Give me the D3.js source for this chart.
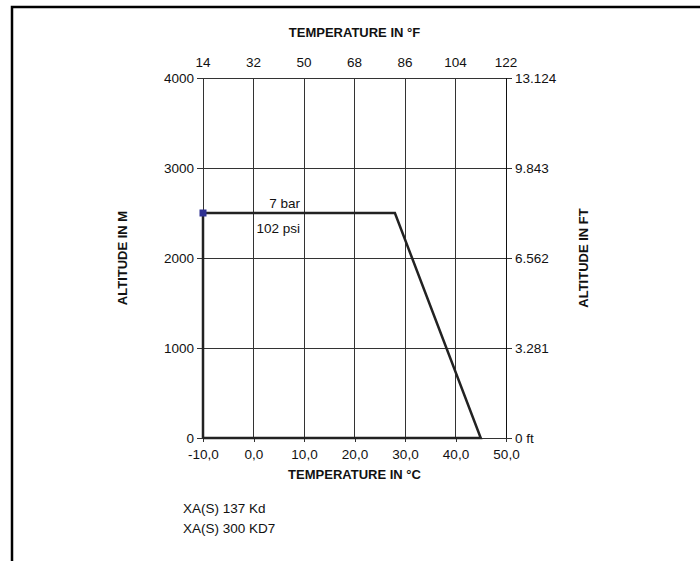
<!DOCTYPE html>
<html>
<head>
<meta charset="utf-8">
<script src="https://cdn.jsdelivr.net/npm/d3@7"></script>
<style>
  body { margin: 0; background: #fff; }
  svg text { font-family: "Liberation Sans", Arial, sans-serif; fill: #111; }
  .ttl { font-weight: bold; font-size: 13px; }
</style>
</head>
<body>
<svg id="chart" width="700" height="561"></svg>
<script>
// ---- data
const tempC = [-10, 0, 10, 20, 30, 40, 50];
const tempF = [14, 32, 50, 68, 86, 104, 122];
const altM = [0, 1000, 2000, 3000, 4000];
const altFt = ["0 ft", "3.281", "6.562", "9.843", "13.124"];
// operating limit (°C, m)
const limitC = [-10, -10, 28, 45, -10];
const limitAlt = [0, 2500, 2500, 0, 0];
const markC = [-10];
const markAlt = [2500];
const notes = ["XA(S) 137 Kd", "XA(S) 300 KD7"];

const svg = d3.select("#chart");
const margin = { top: 78, left: 203, right: 194, bottom: 123 };
const W = 700, H = 561;
const fs = 13.5;

var x = d3.scaleLinear().domain([-10, 50]).range([margin.left, W - margin.right]);
var y = d3.scaleLinear().domain([0, 4000]).range([H - margin.bottom, margin.top]);

const fmtC = d3.formatLocale({ decimal: ",", thousands: ".", grouping: [3], currency: ["", ""], minus: "-" }).format(".1f");

// frame (top + left)
svg.append("path")
  .attr("d", "M12,561 L12,7 L700,7")
  .attr("fill", "none").attr("stroke", "#000").attr("stroke-width", 2.5);

// ---- grid
svg.append("g").selectAll("line").data(tempC).join("line")
  .attr("x1", d => x(d)).attr("x2", d => x(d))
  .attr("y1", y(0)).attr("y2", y(4000))
  .attr("stroke", "#333").attr("stroke-width", 1).attr("shape-rendering", "crispEdges");
svg.append("g").selectAll("line").data(altM).join("line")
  .attr("x1", x(-10)).attr("x2", x(50))
  .attr("y1", d => y(d)).attr("y2", d => y(d))
  .attr("stroke", "#333").attr("stroke-width", 1).attr("shape-rendering", "crispEdges");

// ---- axes
var gx = svg.append("g").attr("transform", "translate(0," + y(0) + ")")
  .call(d3.axisBottom(x).tickValues(tempC).tickSize(4).tickPadding(7).tickFormat(fmtC));
var gl = svg.append("g").attr("transform", "translate(" + x(-10) + ",0)")
  .call(d3.axisLeft(y).tickValues(altM).tickSize(6).tickPadding(3).tickFormat(d3.format("d")));
var gr = svg.append("g").attr("transform", "translate(" + x(50) + ",0)")
  .call(d3.axisRight(y).tickValues(altM).tickSize(6).tickPadding(3).tickFormat((d, i) => altFt[i]));
[gx, gl, gr].forEach(g => {
  g.selectAll(".domain").remove();
  g.selectAll(".tick line").attr("stroke", "#333").attr("shape-rendering", "crispEdges");
  g.selectAll("text").attr("font-size", fs).attr("font-family", null).style("fill", "#111");
});
svg.append("line").attr("x1", x(50)).attr("x2", x(50)).attr("y1", y(0)).attr("y2", y(4000))
  .attr("stroke", "#111").attr("shape-rendering", "crispEdges");

// top °F labels
svg.append("g").selectAll("text").data(tempF).join("text")
  .attr("x", (d, i) => x(tempC[i])).attr("y", 67)
  .attr("text-anchor", "middle").attr("font-size", fs)
  .text(d => d);

// ---- titles
svg.append("text").attr("class", "ttl").attr("x", (x(-10) + x(50)) / 2).attr("y", 37)
  .attr("text-anchor", "middle").text("TEMPERATURE IN °F");
svg.append("text").attr("class", "ttl").attr("x", (x(-10) + x(50)) / 2).attr("y", 479)
  .attr("text-anchor", "middle").text("TEMPERATURE IN °C");
svg.append("text").attr("class", "ttl")
  .attr("transform", "translate(127," + (y(0) + y(4000)) / 2 + ") rotate(-90)")
  .attr("text-anchor", "middle").text("ALTITUDE IN M");
svg.append("text").attr("class", "ttl")
  .attr("transform", "translate(588," + (y(0) + y(4000)) / 2 + ") rotate(-90)")
  .attr("text-anchor", "middle").text("ALTITUDE IN FT");

// ---- limit line
var line = d3.line().x(d => x(d[0])).y(d => y(d[1]));
svg.append("path")
  .datum(limitC.map((c, i) => [c, limitAlt[i]]))
  .attr("d", line)
  .attr("fill", "none").attr("stroke", "#222").attr("stroke-width", 2.5)
  .attr("stroke-linejoin", "miter");

svg.append("g").selectAll("rect").data(markC).join("rect")
  .attr("x", (d) => x(d) - 3.5).attr("y", (d, i) => y(markAlt[i]) - 3.5)
  .attr("width", 7).attr("height", 7).attr("fill", "#2e3192");

// annotations
svg.append("text").attr("x", 300).attr("y", 208).attr("text-anchor", "end")
  .attr("font-size", fs).text("7 bar");
svg.append("text").attr("x", 300).attr("y", 233).attr("text-anchor", "end")
  .attr("font-size", fs).text("102 psi");

// notes
svg.append("g").selectAll("text").data(notes).join("text")
  .attr("x", 183).attr("y", (d, i) => 513 + i * 20)
  .attr("font-size", fs).text(d => d);
</script>
</body>
</html>
